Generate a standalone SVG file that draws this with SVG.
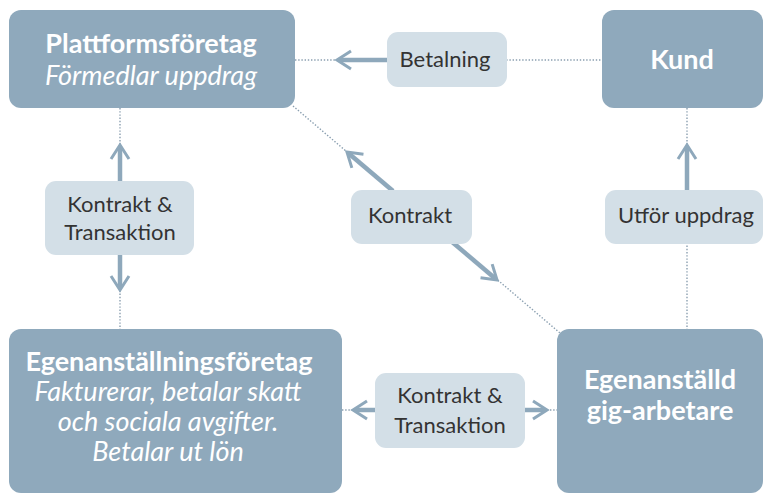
<svg xmlns="http://www.w3.org/2000/svg" width="766" height="495" viewBox="0 0 766 495">
<defs>
<marker id="arr" markerUnits="userSpaceOnUse" markerWidth="22" markerHeight="24" viewBox="-16 -12 22 24" refX="0" refY="0" orient="auto">
<path d="M-12,-9 L2,0 L-12,9" fill="none" stroke="#8ea8bb" stroke-width="3" stroke-linejoin="miter"/>
</marker>
</defs>
<style>
.node{fill:#8fa9bc}
.lab{fill:#d3dfe7}
.dot{stroke:#8a9fb0;stroke-width:1.4;stroke-dasharray:1.4 1.8;fill:none}
.arw{stroke:#8ea8bb;stroke-width:4.5;fill:none;marker-end:url(#arr)}
text{font-family:Lato,"Open Sans","Liberation Sans",sans-serif;text-anchor:middle}
.w{fill:#fff}
.t{font-weight:bold;font-size:27px}
.i2{font-style:italic;font-size:27px}
.l{fill:#333;font-size:22px}
</style>
<g id="connectors">
<line class="dot" x1="295" y1="60" x2="602" y2="60"/>
<line class="dot" x1="120" y1="108" x2="120" y2="329"/>
<line class="dot" x1="293" y1="106" x2="560" y2="333"/>
<line class="dot" x1="687" y1="108" x2="687" y2="329"/>
<line class="dot" x1="342" y1="410" x2="557" y2="410"/>
<line class="arw" x1="389" y1="60" x2="339" y2="60"/>
<line class="arw" x1="120" y1="183" x2="120" y2="147"/>
<line class="arw" x1="120" y1="253" x2="120" y2="288"/>
<line class="arw" x1="393" y1="191" x2="348.5" y2="153.3"/>
<line class="arw" x1="451" y1="241" x2="495.5" y2="278.7"/>
<line class="arw" x1="687" y1="192" x2="687" y2="147"/>
<line class="arw" x1="377" y1="410" x2="355" y2="410"/>
<line class="arw" x1="523" y1="410" x2="545" y2="410"/>
</g>
<g id="lbl-betalning">
<rect class="lab" x="387" y="32" width="120" height="55" rx="11"/>
<text class="l" x="445" y="67">Betalning</text>
</g>
<g id="lbl-kontrakt-transaktion-left">
<rect class="lab" x="45" y="181" width="149" height="74" rx="11"/>
<text class="l"><tspan x="120" y="212">Kontrakt &amp;</tspan><tspan x="120" y="240">Transaktion</tspan></text>
</g>
<g id="lbl-kontrakt">
<rect class="lab" x="351" y="190" width="121" height="54" rx="11"/>
<text class="l" x="410" y="223">Kontrakt</text>
</g>
<g id="lbl-utfor">
<rect class="lab" x="605" y="190" width="158" height="54" rx="11"/>
<text class="l" x="686" y="223">Utför uppdrag</text>
</g>
<g id="lbl-kontrakt-transaktion-bottom">
<rect class="lab" x="375" y="373" width="150" height="75" rx="11"/>
<text class="l"><tspan x="450" y="403">Kontrakt &amp;</tspan><tspan x="450" y="433">Transaktion</tspan></text>
</g>
<g id="plattformsforetag">
<rect class="node" x="9" y="10" width="286" height="98" rx="12"/>
<text class="w"><tspan class="t" x="151" y="53">Plattformsföretag</tspan><tspan class="i2" x="151" y="85">Förmedlar uppdrag</tspan></text>
</g>
<g id="kund">
<rect class="node" x="602" y="10" width="161" height="98" rx="12"/>
<text class="w t" x="682" y="69">Kund</text>
</g>
<g id="egenanstallningsforetag">
<rect class="node" x="9" y="329" width="333" height="164" rx="12"/>
<text class="w"><tspan class="t" x="169" y="371">Egenanställningsföretag</tspan><tspan class="i2" x="168" y="401">Fakturerar, betalar skatt</tspan><tspan class="i2" x="168" y="431">och sociala avgifter.</tspan><tspan class="i2" x="168" y="461">Betalar ut lön</tspan></text>
</g>
<g id="gigarbetare">
<rect class="node" x="557" y="329" width="206" height="164" rx="12"/>
<text class="w t"><tspan x="660" y="389">Egenanställd</tspan><tspan x="660" y="420">gig-arbetare</tspan></text>
</g>
</svg>
